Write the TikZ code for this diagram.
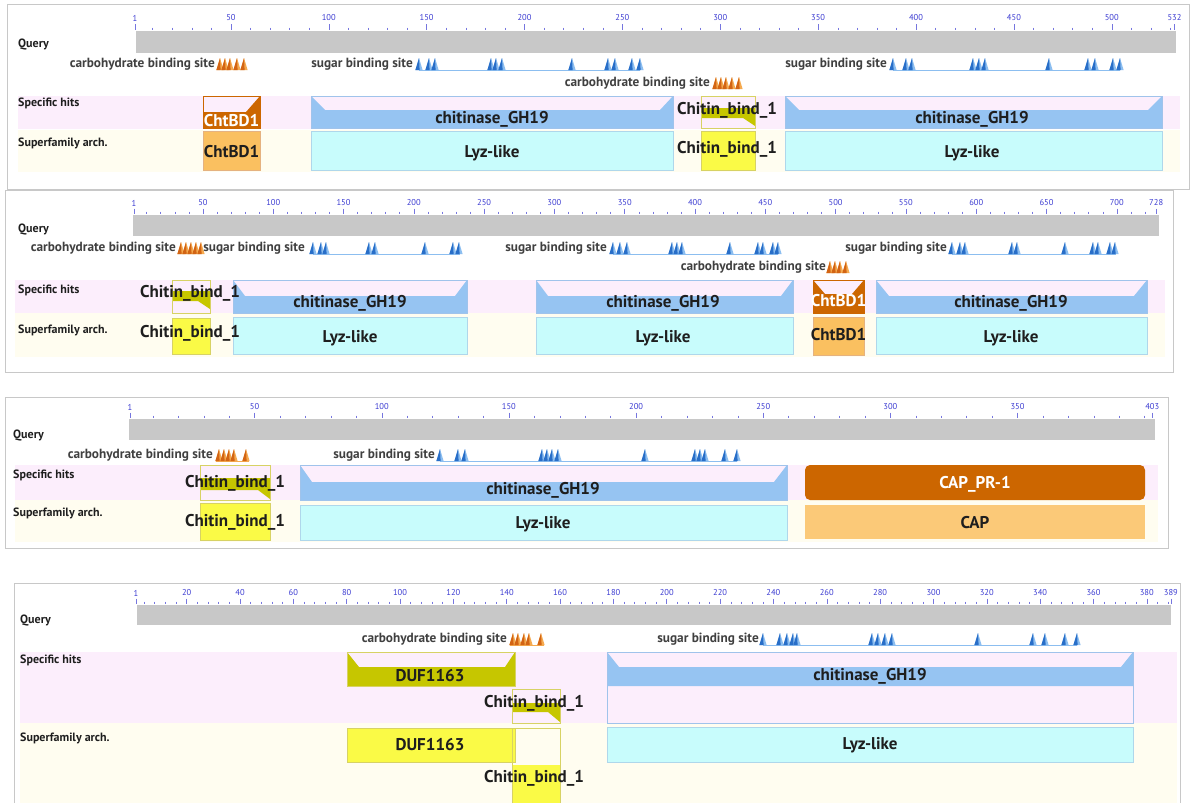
\documentclass[tikz,border=0pt]{standalone}
\usepackage{fontspec}
\setmainfont{PT Sans}
\definecolor{pinkb}{RGB}{252,238,252}
\definecolor{yelb}{RGB}{255,253,240}
\definecolor{qgray}{RGB}{200,200,200}
\definecolor{gh}{RGB}{150,196,242}
\definecolor{ghline}{RGB}{160,195,235}
\definecolor{lyz}{RGB}{200,252,252}
\definecolor{lyzline}{RGB}{175,215,235}
\definecolor{dor}{RGB}{204,102,0}
\definecolor{lor}{RGB}{250,192,96}
\definecolor{cbol}{RGB}{198,198,0}
\definecolor{cbyel}{RGB}{250,250,70}
\definecolor{cbline}{RGB}{215,210,100}
\definecolor{tkb}{RGB}{60,60,210}
\definecolor{sod}{RGB}{210,100,20}
\definecolor{sol}{RGB}{245,170,80}
\definecolor{sbd}{RGB}{40,110,200}
\definecolor{sbl}{RGB}{140,190,240}
\definecolor{frm}{RGB}{200,200,200}
\definecolor{txt}{RGB}{30,30,30}
\tikzset{
  frame/.style={draw=frm, line width=0.9pt},
  tl/.style={font=\fontsize{8.5}{9}\selectfont, text=tkb, inner sep=0},
  tk/.style={draw=tkb!70, line width=0.5pt},
  rl/.style={font=\bfseries\fontsize{12}{13}\selectfont, text=txt, anchor=west, inner sep=0},
  sl/.style={font=\bfseries\fontsize{13.3}{14}\selectfont, text=black!75, anchor=east, inner sep=0},
  dl/.style={font=\bfseries\fontsize{17}{18}\selectfont, text=txt, inner sep=0},
  dlw/.style={font=\bfseries\fontsize{17}{18}\selectfont, text=white, inner sep=0},
  sline/.style={draw=sbl, line width=0.7pt},
  oline/.style={draw=sol, line width=0.7pt},
}
\newcommand{\mk}[4]{\fill[#4] ({#1-3.6},#2) -- ({#1},{#2-12}) -- ({#1+3.6},#2) -- cycle;
  \fill[#3] ({#1-3.6},#2) -- ({#1},{#2-12}) -- ({#1+0.6},#2) -- cycle;}
\newcommand{\mks}[4]{\foreach \q in {#1}{\mk{\q}{#2}{#3}{#4}}}
% fill, outline, x0, x1, ytop, ymid, ybot, dl, dr
\newcommand{\sbar}[9]{\fill[#1] (#3,#5) -- ({#3+#8},#6) -- ({#4-#9},#6) -- (#4,#5) -- (#4,#7) -- (#3,#7) -- cycle;
  \draw[#2, line width=0.6pt] (#3,#5) rectangle (#4,#7);}
% x0,x1,ytop,ybot,barTop,barBot,flare
\newcommand{\cbar}[7]{\fill[cbol] (#1,#5) -- (#2,#5) -- (#2,#7) -- ({#2-12},#6) -- (#1,#6) -- cycle;
  \draw[cbline, line width=0.6pt] (#1,#3) rectangle (#2,#4);}
\begin{document}
\begin{tikzpicture}[x=1pt,y=-1pt]
\useasboundingbox (0,0) rectangle (1190,803);
\fill[white] (0,0) rectangle (1190,803);

%% ================= Panel 1 =================
\draw[frame] (7,4) rectangle (1189,189);
\fill[pinkb] (18,96) rectangle (1180,129);
\fill[yelb] (18,130) rectangle (1180,172);
\fill[qgray] (136,31) rectangle (1176,53);
\foreach \rr in {10,20,...,530} \draw[tk] ({135+1.9575*(\rr-1)},27.5) -- ++(0,2.5);
\foreach \rr in {1,50,100,...,500,532} {\draw[tk] ({135+1.9575*(\rr-1)},24) -- ++(0,6);
  \node[tl] (ra\rr) at ({135+1.9575*(\rr-1)},18) {\rr};}
\node[rl] (qa) at (18,45) {Query};
\node[rl] (sha) at (18,103) {Specific hits};
\node[rl] (sfa) at (18,143) {Superfamily arch.};
% sites
\node[sl] (ca1) at (215,64) {carbohydrate binding site};
\mks{220,225,230,237,244}{70}{sod}{sol}
\node[sl] (sa1) at (413,64) {sugar binding site};
\draw[sline] (419,70) -- (640,70);
\mks{419,429,435,491,496,502,572,608,615,632,640}{70}{sbd}{sbl}
\node[sl] (ca2) at (710,83) {carbohydrate binding site};
\mks{716,721,726,732,739}{89}{sod}{sol}
\node[sl] (sa2) at (887,64) {sugar binding site};
\draw[sline] (893,70) -- (1120,70);
\mks{893,906,912,973,979,985,1049,1088,1095,1113,1120}{70}{sbd}{sbl}
% domains
\sbar{dor}{dor}{203}{260}{96}{112}{128}{0}{14}
\node[dlw] (da1) at (231.5,120.5) {ChtBD1};
\fill[lor] (203,131) rectangle (260,170); \draw[dor!50, line width=0.6pt] (203,131) rectangle (260,170);
\node[dl] (ea1) at (231.5,152) {ChtBD1};
\sbar{gh}{ghline}{311}{673}{96}{110}{128}{14}{13}
\node[dl] (da2) at (492,119) {chitinase\_GH19};
\fill[lyz] (311,131) rectangle (673,170); \draw[lyzline, line width=0.6pt] (311,131) rectangle (673,170);
\node[dl] (ea2) at (492,153) {Lyz-like};
\cbar{701}{755}{96}{128}{108}{118}{126}
\fill[cbyel] (701,131) rectangle (755,170); \draw[cbline, line width=0.6pt] (701,131) rectangle (755,170);
\node[dl] (da3) at (727,110) {Chitin\_bind\_1};
\node[dl] (ea3) at (727,149) {Chitin\_bind\_1};
\sbar{gh}{ghline}{785}{1162}{96}{110}{128}{14}{14}
\node[dl] (da4) at (972,119) {chitinase\_GH19};
\fill[lyz] (785,131) rectangle (1162,170); \draw[lyzline, line width=0.6pt] (785,131) rectangle (1162,170);
\node[dl] (ea4) at (972,153) {Lyz-like};

%% ================= Panel 2 =================
\draw[frame] (5,190) rectangle (1173,372);
\fill[pinkb] (15,280) rectangle (1165,313);
\fill[yelb] (15,313) rectangle (1165,357);
\fill[qgray] (133,215) rectangle (1159,236);
\foreach \rr in {10,20,...,720} \draw[tk] ({134+1.406*(\rr-1)},211.5) -- ++(0,2.5);
\foreach \rr in {1,50,100,...,700,728} {\draw[tk] ({134+1.406*(\rr-1)},208.5) -- ++(0,5.5);
  \node[tl] (rb\rr) at ({134+1.406*(\rr-1)},203) {\rr};}
\node[rl] (qb) at (18,230) {Query};
\node[rl] (shb) at (18,290) {Specific hits};
\node[rl] (sfb) at (18,330) {Superfamily arch.};
\node[sl] (cb1) at (176,248) {carbohydrate binding site};
\mks{181,186,191,196,201}{254}{sod}{sol}
\node[sl] (sb1) at (305,248) {sugar binding site};
\draw[sline] (313,254) -- (460,254);
\mks{313,321,326,369,375,425,453,459}{254}{sbd}{sbl}
\node[sl] (sb2) at (607,248) {sugar binding site};
\draw[sline] (613,254) -- (778,254);
\mks{613,620,627,672,677,682,730,758,763,773,778}{254}{sbd}{sbl}
\node[sl] (cb2) at (826,267) {carbohydrate binding site};
\mks{830,835,840,846}{273}{sod}{sol}
\node[sl] (sb3) at (947,248) {sugar binding site};
\draw[sline] (952,254) -- (1116,254);
\mks{952,960,965,1012,1017,1065,1093,1098,1110,1115}{254}{sbd}{sbl}
% domains
\cbar{172}{210}{280}{313}{291}{301}{309}
\fill[cbyel] (172,318) rectangle (210,354); \draw[cbline, line width=0.6pt] (172,318) rectangle (210,354);
\sbar{gh}{ghline}{233}{467}{280}{296}{313}{12}{12}
\node[dl] (db2) at (350,303) {chitinase\_GH19};
\fill[lyz] (233,317) rectangle (467,354); \draw[lyzline, line width=0.6pt] (233,317) rectangle (467,354);
\node[dl] (eb2) at (350,338) {Lyz-like};
\node[dl] (db1) at (190,293) {Chitin\_bind\_1};
\node[dl] (eb1) at (190,333) {Chitin\_bind\_1};
\sbar{gh}{ghline}{536}{793}{280}{296}{313}{12}{12}
\node[dl] (db3) at (663,303) {chitinase\_GH19};
\fill[lyz] (536,317) rectangle (793,354); \draw[lyzline, line width=0.6pt] (536,317) rectangle (793,354);
\node[dl] (eb3) at (663,338) {Lyz-like};
\sbar{dor}{dor}{813}{864}{280}{294}{313}{12}{12}
\node[dlw] (db4) at (838.5,301) {ChtBD1};
\fill[lor] (813,317) rectangle (864,355); \draw[dor!50, line width=0.6pt] (813,317) rectangle (864,355);
\node[dl] (eb4) at (838.5,335) {ChtBD1};
\sbar{gh}{ghline}{876}{1147}{280}{296}{313}{13}{13}
\node[dl] (db5) at (1011,303) {chitinase\_GH19};
\fill[lyz] (876,317) rectangle (1147,354); \draw[lyzline, line width=0.6pt] (876,317) rectangle (1147,354);
\node[dl] (eb5) at (1011,338) {Lyz-like};

%% ================= Panel 3 =================
\draw[frame] (5,397) rectangle (1168,548);
\fill[pinkb] (15,465) rectangle (1158,500);
\fill[yelb] (15,500) rectangle (1158,542);
\fill[qgray] (129,419) rectangle (1155,440);
\foreach \rr in {10,20,...,400} \draw[tk] ({130+2.543*(\rr-1)},415.5) -- ++(0,2.5);
\foreach \rr in {1,50,100,...,350,403} {\draw[tk] ({130+2.543*(\rr-1)},412.5) -- ++(0,5.5);
  \node[tl] (rc\rr) at ({130+2.543*(\rr-1)},407) {\rr};}
\node[rl] (qc) at (13,435) {Query};
\node[rl] (shc) at (13,475) {Specific hits};
\node[rl] (sfc) at (13,513) {Superfamily arch.};
\node[sl] (cc1) at (213,455) {carbohydrate binding site};
\draw[oline] (216,461) -- (249,461);
\mks{219,224,229,234,246}{461}{sod}{sol}
\node[sl] (sc1) at (435,455) {sugar binding site};
\draw[sline] (440,461) -- (737,461);
\mks{440,458,465,542,547,552,558,645,695,700,705,725,737}{461}{sbd}{sbl}
% domains
\cbar{200}{270}{465}{500}{478}{490}{499}
\fill[cbyel] (200,503) rectangle (270,540); \draw[cbline, line width=0.6pt] (200,503) rectangle (270,540);
\node[dl] (dc1) at (235,483) {Chitin\_bind\_1};
\node[dl] (ec1) at (235,522) {Chitin\_bind\_1};
\sbar{gh}{ghline}{300}{787}{465}{482}{500}{12}{13}
\node[dl] (dc2) at (543,490) {chitinase\_GH19};
\fill[lyz] (300,505) rectangle (787,540); \draw[lyzline, line width=0.6pt] (300,505) rectangle (787,540);
\node[dl] (ec2) at (543,524) {Lyz-like};
\fill[dor, rounded corners=5pt] (805,465) rectangle (1145,500);
\node[dlw] (dc3) at (975,484) {CAP\_PR-1};
\fill[lor!85] (805,505) rectangle (1145,539);
\node[dl] (ec3) at (975,523) {CAP};

%% ================= Panel 4 =================
\draw[frame] (14,803) -- (14,583) -- (1180,583) -- (1180,803);
\fill[pinkb] (20,652) rectangle (1177,723);
\fill[yelb] (20,723) rectangle (1177,803);
\fill[qgray] (137,605) rectangle (1171,625);
\foreach \rr in {4,8,...,388} \draw[tk] ({136+2.667*(\rr-1)},601.5) -- ++(0,2.5);
\foreach \rr in {1,20,40,...,380,389} {\draw[tk] ({136+2.667*(\rr-1)},598.5) -- ++(0,5.5);
  \node[tl] (rd\rr) at ({136+2.667*(\rr-1)},593) {\rr};}
\node[rl] (qd) at (20,620) {Query};
\node[rl] (shd) at (20,660) {Specific hits};
\node[rl] (sfd) at (20,738) {Superfamily arch.};
\node[sl] (cd1) at (507,639) {carbohydrate binding site};
\draw[oline] (510,645) -- (544,645);
\mks{513,518,524,529,541}{645}{sod}{sol}
\node[sl] (sd1) at (759,639) {sugar binding site};
\draw[sline] (763,645) -- (1077,645);
\mks{763,780,787,793,797,872,878,885,892,978,1033,1045,1065,1077}{645}{sbd}{sbl}
% domains
\sbar{cbol}{cbline}{347}{515}{652}{667}{686}{12}{10}
\node[dl] (dd1) at (430,675.5) {DUF1163};
\fill[cbyel] (347,728) rectangle (515,762); \draw[cbline, line width=0.6pt] (347,728) rectangle (515,762);
\node[dl] (ed1) at (430,745) {DUF1163};
\cbar{512}{560}{689}{723}{703}{712}{722}
\fill[cbyel] (512,765) rectangle (560,803); \draw[cbline, line width=0.6pt] (512,803) -- (512,728) -- (560,728) -- (560,803);
\node[dl] (dd2) at (534,703) {Chitin\_bind\_1};
\node[dl] (ed2) at (534,778) {Chitin\_bind\_1};
\fill[gh] (607,652) -- (619,667) -- (1121,667) -- (1133,652) -- (1133,686) -- (607,686) -- cycle;
\draw[ghline, line width=0.6pt] (607,652) rectangle (1133,723);
\node[dl] (dd3) at (870,676) {chitinase\_GH19};
\fill[lyz] (607,727) rectangle (1133,762); \draw[lyzline, line width=0.6pt] (607,727) rectangle (1133,762);
\node[dl] (ed3) at (870,745) {Lyz-like};
\end{tikzpicture}
\end{document}
